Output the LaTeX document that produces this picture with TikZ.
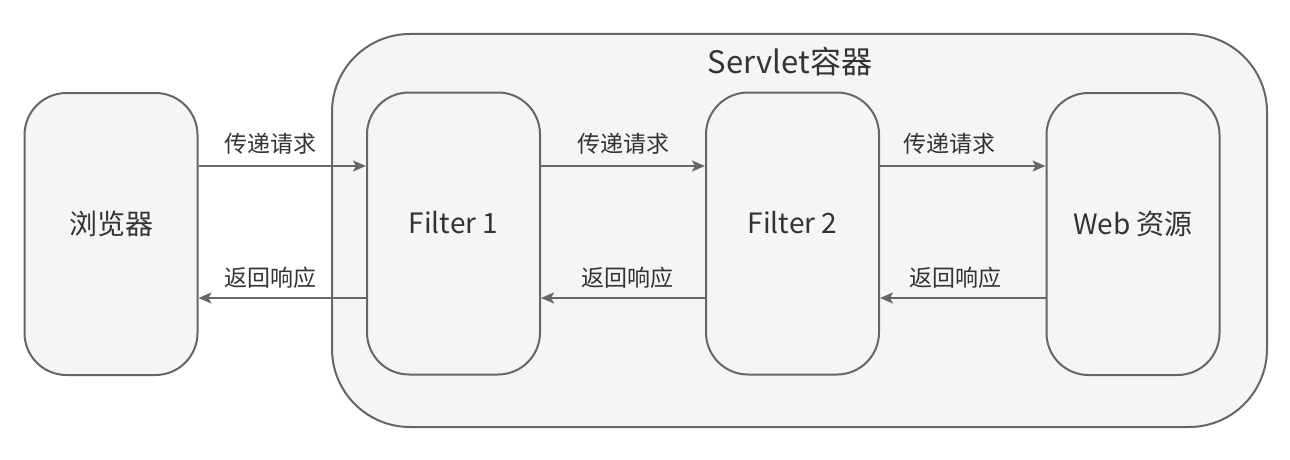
\documentclass[tikz,border=0pt]{standalone}
\usepackage{fontspec}
\setmainfont{Noto Sans CJK SC}
\usetikzlibrary{arrows.meta}
\definecolor{strokegray}{HTML}{666666}
\definecolor{fillgray}{HTML}{F5F5F5}
\definecolor{textgray}{HTML}{333333}
\begin{document}
\begin{tikzpicture}[x=1pt,y=-1pt,
  box/.style={draw=strokegray, fill=fillgray, line width=2pt, rounded corners=42pt,
    minimum width=173pt, minimum height=282pt, inner sep=0pt,
    text height=12pt, text depth=12pt,
    text=textgray, font=\fontsize{28}{32}\selectfont},
  container/.style={draw=strokegray, fill=fillgray, line width=2pt, rounded corners=78pt,
    minimum width=935pt, minimum height=393pt, inner sep=0pt},
  arr/.style={draw=strokegray, line width=2pt, -{Stealth[length=13pt,width=11pt,inset=3pt]}},
  lbl/.style={text=textgray, font=\fontsize{23}{27}\selectfont, inner sep=0pt}]
\useasboundingbox (0,0) rectangle (1290,460);
\node[container] (cont) at (799.5,230.5) {};
\node[text=textgray, font=\fontsize{31}{36}\selectfont, inner sep=0pt] (title) at (790,62) {Servlet容器};
\node[box] (browser) at (111,234) {浏览器};
\node[box] (f1) at (453.5,233.5) {Filter 1};
\node[box] (f2) at (792.5,233.5) {Filter 2};
\node[box] (web) at (1133,234) {Web 资源};
\coordinate (req) at (0,166);
\coordinate (resp) at (0,298);
\draw[arr] (browser.east |- req) -- node[lbl, above=11pt, xshift=-12pt] (l1) {传递请求} (f1.west |- req);
\draw[arr] (f1.east |- req) -- node[lbl, above=11pt] (l2) {传递请求} (f2.west |- req);
\draw[arr] (f2.east |- req) -- node[lbl, above=11pt, xshift=-13pt] (l3) {传递请求} (web.west |- req);
\draw[arr] (f1.west |- resp) -- node[lbl, above=9pt, xshift=-12pt] (l4) {返回响应} (browser.east |- resp);
\draw[arr] (f2.west |- resp) -- node[lbl, above=9pt, xshift=4pt] (l5) {返回响应} (f1.east |- resp);
\draw[arr] (web.west |- resp) -- node[lbl, above=9pt, xshift=-7pt] (l6) {返回响应} (f2.east |- resp);
\end{tikzpicture}
\end{document}
